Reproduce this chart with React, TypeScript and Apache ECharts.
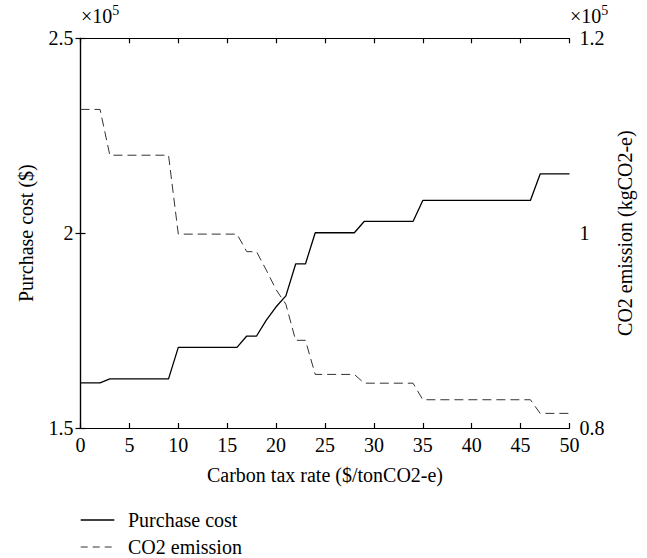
import React, { useEffect, useRef } from "react";
import * as echarts from "echarts";

// Carbon tax rate ($/tonCO2-e)
const taxRate = [0, 2, 3, 9, 10, 16, 17, 18, 19, 20, 21, 22, 23, 24, 28, 29, 34, 35, 46, 47, 50];
// Purchase cost ($)
const purchaseCost = [161600, 161600, 162600, 162600, 170700, 170700, 173600, 173600, 177700, 181100, 183900, 192100, 192100, 200100, 200100, 203000, 203000, 208400, 208400, 215200, 215200];
// CO2 emission (kgCO2-e)
const co2Emission = [112700, 112700, 108000, 108000, 99900, 99900, 98100, 98100, 96200, 94200, 92700, 89000, 89000, 85500, 85500, 84600, 84600, 82900, 82900, 81500, 81500];

const seriesNames = ["Purchase cost", "CO2 emission"];
const xAxisTitle = "Carbon tax rate ($/tonCO2-e)";
const leftTitle = "Purchase cost ($)";
const rightTitle = "CO2 emission (kgCO2-e)";

const FONT = "'Liberation Serif', 'DejaVu Serif', serif";
const FS = 20;

export default function App() {
  const ref = useRef<HTMLDivElement>(null);
  useEffect(() => {
    if (!ref.current) return;
    const chart = echarts.init(ref.current, undefined, { renderer: "svg" });
    const fmt = (v: number) => String(Math.round((v / 1e5) * 100) / 100);
    const axisCommon = {
      axisLine: { show: true, lineStyle: { color: "#000", width: 1.2 } },
      axisTick: { show: true, inside: true, length: 5, lineStyle: { color: "#000", width: 1.2 } },
      splitLine: { show: false },
    };
    const expText = (left: number) => ({
      type: "text",
      left,
      top: 3,
      style: {
        text: "{b|×10}{s|5}",
        rich: {
          b: { fontFamily: FONT, fontSize: FS, fill: "#000", verticalAlign: "bottom", lineHeight: 23 },
          s: { fontFamily: FONT, fontSize: 14, fill: "#000", verticalAlign: "top", lineHeight: 23, padding: [0, 0, 8, 0] },
        },
      },
    });
    const legendRow = (y: number, name: string, dash: any, color: string) => [
      {
        type: "line",
        shape: { x1: 80.7, y1: y, x2: 114.3, y2: y },
        style: { stroke: color, lineWidth: dash ? 1 : 1.3, lineDash: dash || null },
      },
      {
        type: "text",
        x: 128,
        y,
        style: { text: name, fontFamily: FONT, fontSize: FS, fill: "#000", verticalAlign: "middle", align: "left" },
      },
    ];
    chart.setOption({
      animation: false,
      backgroundColor: "#fff",
      textStyle: { fontFamily: FONT },
      grid: { left: 80.5, right: 77.5, top: 38.3, bottom: 130, containLabel: false },
      graphic: [
        expText(81),
        expText(570),
        ...legendRow(520, seriesNames[0], null, "#000"),
        ...legendRow(547, seriesNames[1], [7, 5], "#333"),
      ],
      xAxis: [
        {
          type: "value",
          min: 0,
          max: 50,
          interval: 5,
          position: "bottom",
          name: xAxisTitle,
          nameLocation: "middle",
          nameGap: 37,
          nameTextStyle: { fontFamily: FONT, fontSize: FS, color: "#000" },
          axisLabel: { fontFamily: FONT, fontSize: FS, color: "#000", margin: 7 },
          ...axisCommon,
        },
        {
          type: "value",
          min: 0,
          max: 50,
          interval: 5,
          position: "top",
          axisLabel: { show: false },
          ...axisCommon,
        },
      ],
      yAxis: [
        {
          type: "value",
          min: 150000,
          max: 250000,
          interval: 50000,
          position: "left",
          name: leftTitle,
          nameLocation: "middle",
          nameRotate: 90,
          nameGap: 45,
          nameTextStyle: { fontFamily: FONT, fontSize: FS, color: "#000" },
          axisLabel: { fontFamily: FONT, fontSize: FS, color: "#000", margin: 7, formatter: fmt },
          ...axisCommon,
        },
        {
          type: "value",
          min: 80000,
          max: 120000,
          interval: 20000,
          position: "right",
          name: rightTitle,
          nameLocation: "middle",
          nameRotate: 90,
          nameGap: 44,
          nameTextStyle: { fontFamily: FONT, fontSize: FS, color: "#000" },
          axisLabel: { fontFamily: FONT, fontSize: FS, color: "#000", margin: 10, formatter: fmt },
          ...axisCommon,
        },
      ],
      series: [
        {
          name: seriesNames[0],
          type: "line",
          xAxisIndex: 0,
          yAxisIndex: 0,
          symbol: "none",
          data: taxRate.map((x, i) => [x, purchaseCost[i]]),
          lineStyle: { color: "#000", width: 1.3, type: "solid" },
          itemStyle: { color: "#000" },
        },
        {
          name: seriesNames[1],
          type: "line",
          xAxisIndex: 0,
          yAxisIndex: 1,
          symbol: "none",
          data: taxRate.map((x, i) => [x, co2Emission[i]]),
          lineStyle: { color: "#333", width: 1, type: [9, 5] },
          itemStyle: { color: "#333" },
        },
      ],
    });
    return () => chart.dispose();
  }, []);
  return (
    <div
      ref={ref}
      style={{ position: "fixed", left: 0, top: 0, width: 647, height: 558, background: "#fff" }}
    />
  );
}
